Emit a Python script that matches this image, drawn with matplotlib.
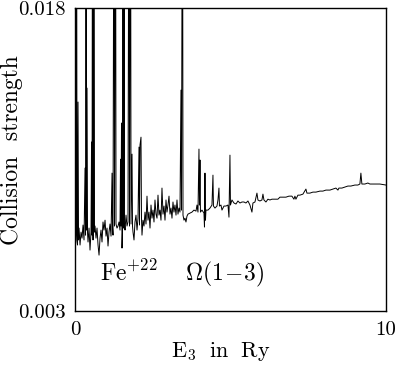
import matplotlib
matplotlib.use('Agg')
import matplotlib.pyplot as plt

plt.rcParams['font.family'] = 'serif'
plt.rcParams['font.serif'] = ['cmr10', 'DejaVu Serif']
plt.rcParams['mathtext.fontset'] = 'cm'
plt.rcParams['axes.unicode_minus'] = False

# energy (Ry) and collision strength; 0.03 = off the top
energy = [
    0.000, 0.032, 0.048, 0.064, 0.080, 0.096, 0.113, 0.129, 0.161, 0.193,
    0.225, 0.257, 0.289, 0.322, 0.338, 0.354, 0.370, 0.386, 0.402, 0.418,
    0.450, 0.482, 0.514, 0.531, 0.547, 0.563, 0.579, 0.611, 0.627, 0.643,
    0.675, 0.707, 0.740, 0.772, 0.804, 0.836, 0.868, 0.900, 0.932, 0.965,
    0.997, 1.029, 1.061, 1.093, 1.125, 1.158, 1.190, 1.206, 1.222, 1.254,
    1.270, 1.302, 1.318, 1.350, 1.383, 1.415, 1.447, 1.463, 1.479, 1.495,
    1.511, 1.527, 1.543, 1.559, 1.576, 1.592, 1.608, 1.640, 1.672, 1.704,
    1.736, 1.752, 1.785, 1.801, 1.833, 1.849, 1.865, 1.897, 1.929, 1.961,
    1.994, 2.026, 2.058, 2.074, 2.090, 2.122, 2.138, 2.154, 2.186, 2.219,
    2.251, 2.283, 2.315, 2.347, 2.379, 2.412, 2.444, 2.476, 2.508, 2.540,
    2.572, 2.605, 2.637, 2.669, 2.701, 2.733, 2.765, 2.797, 2.830, 2.862,
    2.894, 2.926, 2.958, 2.990, 3.023, 3.055, 3.087, 3.119, 3.151, 3.183,
    3.215, 3.248, 3.280, 3.312, 3.344, 3.376, 3.408, 3.424, 3.457, 3.473,
    3.505, 3.537, 3.569, 3.601, 3.633, 3.698, 3.762, 3.826, 3.891, 3.923,
    3.955, 3.987, 4.003, 4.019, 4.035, 4.084, 4.148, 4.164, 4.180, 4.196,
    4.212, 4.277, 4.341, 4.405, 4.437, 4.453, 4.502, 4.566, 4.598, 4.630,
    4.646, 4.695, 4.727, 4.791, 4.855, 4.920, 4.952, 4.984, 5.000, 5.048,
    5.113, 5.177, 5.241, 5.305, 5.370, 5.434, 5.498, 5.563, 5.627, 5.691,
    5.723, 5.788, 5.852, 5.884, 5.948, 6.013, 6.045, 6.077, 6.141, 6.206,
    6.270, 6.334, 6.431, 6.527, 6.592, 6.688, 6.785, 6.881, 6.977, 7.042,
    7.074, 7.106, 7.170, 7.235, 7.331, 7.428, 7.460, 7.556, 7.653, 7.749,
    7.878, 7.974, 8.071, 8.199, 8.296, 8.392, 8.457, 8.489, 8.585, 8.682,
    8.778, 8.875, 9.003, 9.100, 9.164, 9.196, 9.228, 9.325, 9.421, 9.486,
    9.646, 9.807, 10.000,
]
omega = [
    0.00602, 0.00652, 0.03000, 0.00676, 0.00627, 0.01335, 0.00652, 0.00711, 0.00627, 0.00691,
    0.00661, 0.00726, 0.00652, 0.01008, 0.00676, 0.03000, 0.00701, 0.01404, 0.00686, 0.00642,
    0.00711, 0.00602, 0.00691, 0.01137, 0.00676, 0.03000, 0.00652, 0.03000, 0.00691, 0.00721,
    0.00661, 0.00711, 0.00627, 0.00577, 0.00661, 0.00701, 0.00642, 0.00741, 0.00701, 0.00750,
    0.00671, 0.00711, 0.00622, 0.00691, 0.00731, 0.00671, 0.00983, 0.00711, 0.00676, 0.03000,
    0.00721, 0.03000, 0.00731, 0.00711, 0.00721, 0.00741, 0.00701, 0.01052, 0.00721, 0.01231,
    0.00612, 0.00691, 0.03000, 0.00711, 0.03000, 0.00726, 0.00701, 0.00775, 0.00721, 0.00741,
    0.03000, 0.00721, 0.03000, 0.00731, 0.01077, 0.00721, 0.00691, 0.00652, 0.00741, 0.00775,
    0.00701, 0.00760, 0.01112, 0.00726, 0.01122, 0.01161, 0.00760, 0.00676, 0.00750, 0.00721,
    0.00790, 0.00731, 0.00869, 0.00750, 0.00790, 0.00711, 0.00825, 0.00760, 0.00800, 0.00741,
    0.00850, 0.00780, 0.00760, 0.00874, 0.00775, 0.00800, 0.00750, 0.00909, 0.00780, 0.00820,
    0.00750, 0.00850, 0.00790, 0.00825, 0.00869, 0.00780, 0.00810, 0.00760, 0.00840, 0.00790,
    0.00825, 0.00775, 0.00850, 0.00780, 0.00810, 0.00790, 0.01394, 0.00800, 0.03000, 0.00775,
    0.00750, 0.00760, 0.00741, 0.00770, 0.00780, 0.00785, 0.00790, 0.00800, 0.00795, 0.00825,
    0.00790, 0.01102, 0.00825, 0.01048, 0.00790, 0.00800, 0.00785, 0.00716, 0.00983, 0.00750,
    0.00800, 0.00800, 0.00810, 0.00825, 0.00973, 0.00820, 0.00810, 0.00820, 0.00850, 0.00909,
    0.00820, 0.00825, 0.00800, 0.00820, 0.00820, 0.00825, 0.00765, 0.01072, 0.00825, 0.00850,
    0.00835, 0.00830, 0.00845, 0.00835, 0.00840, 0.00840, 0.00835, 0.00845, 0.00825, 0.00790,
    0.00835, 0.00840, 0.00884, 0.00850, 0.00845, 0.00850, 0.00879, 0.00850, 0.00840, 0.00854,
    0.00850, 0.00854, 0.00854, 0.00854, 0.00864, 0.00864, 0.00864, 0.00869, 0.00869, 0.00854,
    0.00869, 0.00854, 0.00874, 0.00874, 0.00879, 0.00904, 0.00884, 0.00884, 0.00889, 0.00889,
    0.00894, 0.00894, 0.00899, 0.00899, 0.00904, 0.00909, 0.00899, 0.00909, 0.00909, 0.00914,
    0.00919, 0.00919, 0.00924, 0.00924, 0.00929, 0.00983, 0.00929, 0.00929, 0.00934, 0.00929,
    0.00929, 0.00929, 0.00924,
]

x_ticks = [0, 10]
x_tick_labels = ['0', '10']
y_ticks = [0.003, 0.018]
y_tick_labels = ['0.003', '0.018']

fig = plt.figure(figsize=(3.97, 3.69), dpi=100)
ax = fig.add_axes([0.189, 0.157, 0.783, 0.821])
ax.plot(energy, omega, color='black', linewidth=0.7)
ax.set_xlim(0, 10)
ax.set_ylim(0.003, 0.018)

ax.set_xticks(x_ticks)
ax.set_xticklabels(x_tick_labels)
ax.set_yticks(y_ticks)
ax.set_yticklabels(y_tick_labels)
ax.tick_params(length=0, labelsize=15, pad=7)
for s in ax.spines.values():
    s.set_linewidth(1.0)

ax.set_xlabel(r'$\mathrm{E_3\ \ in\ \ Ry}$', fontsize=16, labelpad=3)
ax.xaxis.set_label_coords(0.47, -0.095)
ax.set_ylabel('Collision  strength', fontsize=17)
ax.yaxis.set_label_coords(-0.168, 0.53)
ax.text(0.08, 0.10, r'$\mathrm{Fe^{+22}}\ \ \ \ \Omega(1\!-\!3)$',
        transform=ax.transAxes, fontsize=17)

fig.savefig('out.png', dpi=100)
